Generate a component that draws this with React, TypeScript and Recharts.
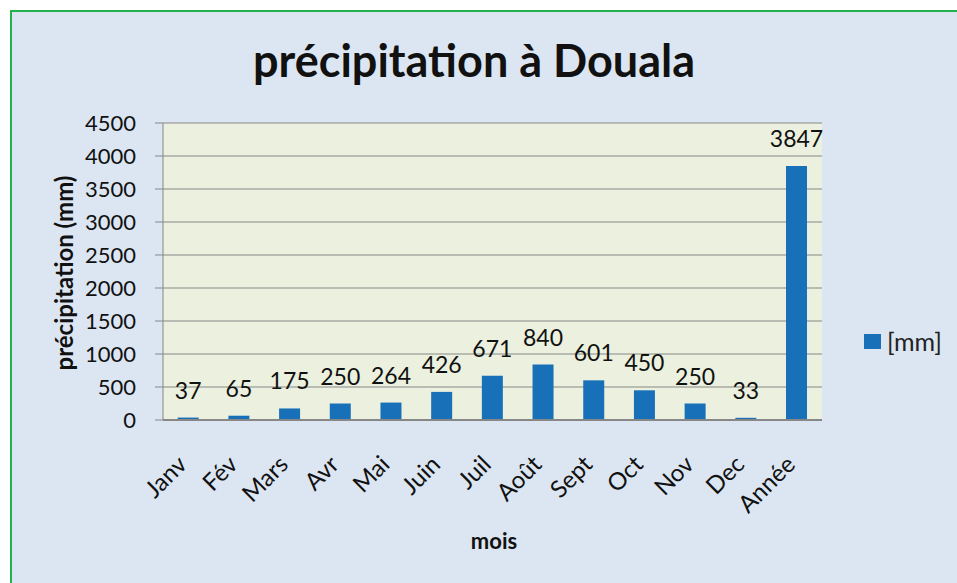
import { BarChart, Bar, XAxis, YAxis, CartesianGrid, LabelList } from "recharts";

const months = ["Janv", "Fév", "Mars", "Avr", "Mai", "Juin", "Juil", "Août", "Sept", "Oct", "Nov", "Dec", "Année"];
const rainMm = [37, 65, 175, 250, 264, 426, 671, 840, 601, 450, 250, 33, 3847];
const yTicks = [0, 500, 1000, 1500, 2000, 2500, 3000, 3500, 4000, 4500];

const data = months.map((mois, i) => ({ mois, mm: rainMm[i] }));

const FONT = "Lato, 'Open Sans', sans-serif";
const BAR = "#1770b8";
const GRID = "#878787";

function MonthTick({ x, y, payload }: any) {
  const tx = x;
  const ty = y + 46;
  return (
    <text
      x={tx}
      y={ty}
      transform={`rotate(-45, ${tx}, ${ty})`}
      textAnchor="end"
      fontSize={24}
      fontFamily={FONT}
      fill="#111"
    >
      {payload.value}
    </text>
  );
}

export default function App() {
  return (
    <div style={{ position: "absolute", left: 0, top: 0, width: 957, height: 583, background: "#fff", overflow: "hidden" }}>
      <div
        style={{
          position: "absolute",
          left: 10,
          top: 10,
          width: 945,
          height: 573,
          background: "#dce6f2",
          borderTop: "2px solid #22b14c",
          borderLeft: "2px solid #22b14c",
        }}
      />
      <div
        style={{
          position: "absolute",
          left: 174,
          top: 38,
          width: 600,
          textAlign: "center",
          fontFamily: FONT,
          fontWeight: 700,
          fontSize: 45,
          lineHeight: "45px",
          color: "#111",
        }}
      >
        précipitation à Douala
      </div>
      <div
        style={{
          position: "absolute",
          left: 63,
          top: 273,
          transform: "translate(-50%, -50%) rotate(-90deg)",
          whiteSpace: "nowrap",
          fontFamily: FONT,
          fontWeight: 700,
          fontSize: 24,
          color: "#111",
        }}
      >
        précipitation (mm)
      </div>
      <div
        style={{
          position: "absolute",
          left: 494,
          top: 540,
          transform: "translate(-50%, -50%)",
          fontFamily: FONT,
          fontWeight: 700,
          fontSize: 22,
          color: "#111",
        }}
      >
        mois
      </div>
      {/* legend */}
      <div
        style={{
          position: "absolute",
          left: 864,
          top: 326,
          display: "flex",
          alignItems: "center",
          fontFamily: FONT,
          fontSize: 25,
          color: "#222",
        }}
      >
        <span style={{ width: 17, height: 15, background: BAR, display: "inline-block", marginRight: 6 }} />
        <span>[mm]</span>
      </div>
      <div style={{ position: "absolute", left: 0, top: 0 }}>
        <BarChart
          width={957}
          height={583}
          data={data}
          margin={{ top: 123, right: 135, bottom: 0, left: 0 }}
          barCategoryGap="29%"
        >
          <CartesianGrid vertical={false} stroke={GRID} fill="#ebf1de" />
          <XAxis
            dataKey="mois"
            height={163}
            interval={0}
            tickSize={0}
            tickMargin={0}
            tickLine={false}
            axisLine={{ stroke: GRID, strokeWidth: 2 }}
            tick={<MonthTick />}
          />
          <YAxis
            width={163}
            domain={[0, 4500]}
            ticks={yTicks}
            interval={0}
            tickSize={8}
            tickMargin={19}
            tickLine={{ stroke: GRID }}
            axisLine={{ stroke: GRID }}
            tick={{ fontSize: 22, fontFamily: FONT, fill: "#111" }}
          />
          <Bar dataKey="mm" name="[mm]" fill={BAR} isAnimationActive={false}>
            <LabelList
              dataKey="mm"
              position="top"
              offset={19}
              fontSize={23}
              fontFamily={FONT}
              fill="#111"
            />
          </Bar>
        </BarChart>
      </div>
    </div>
  );
}
